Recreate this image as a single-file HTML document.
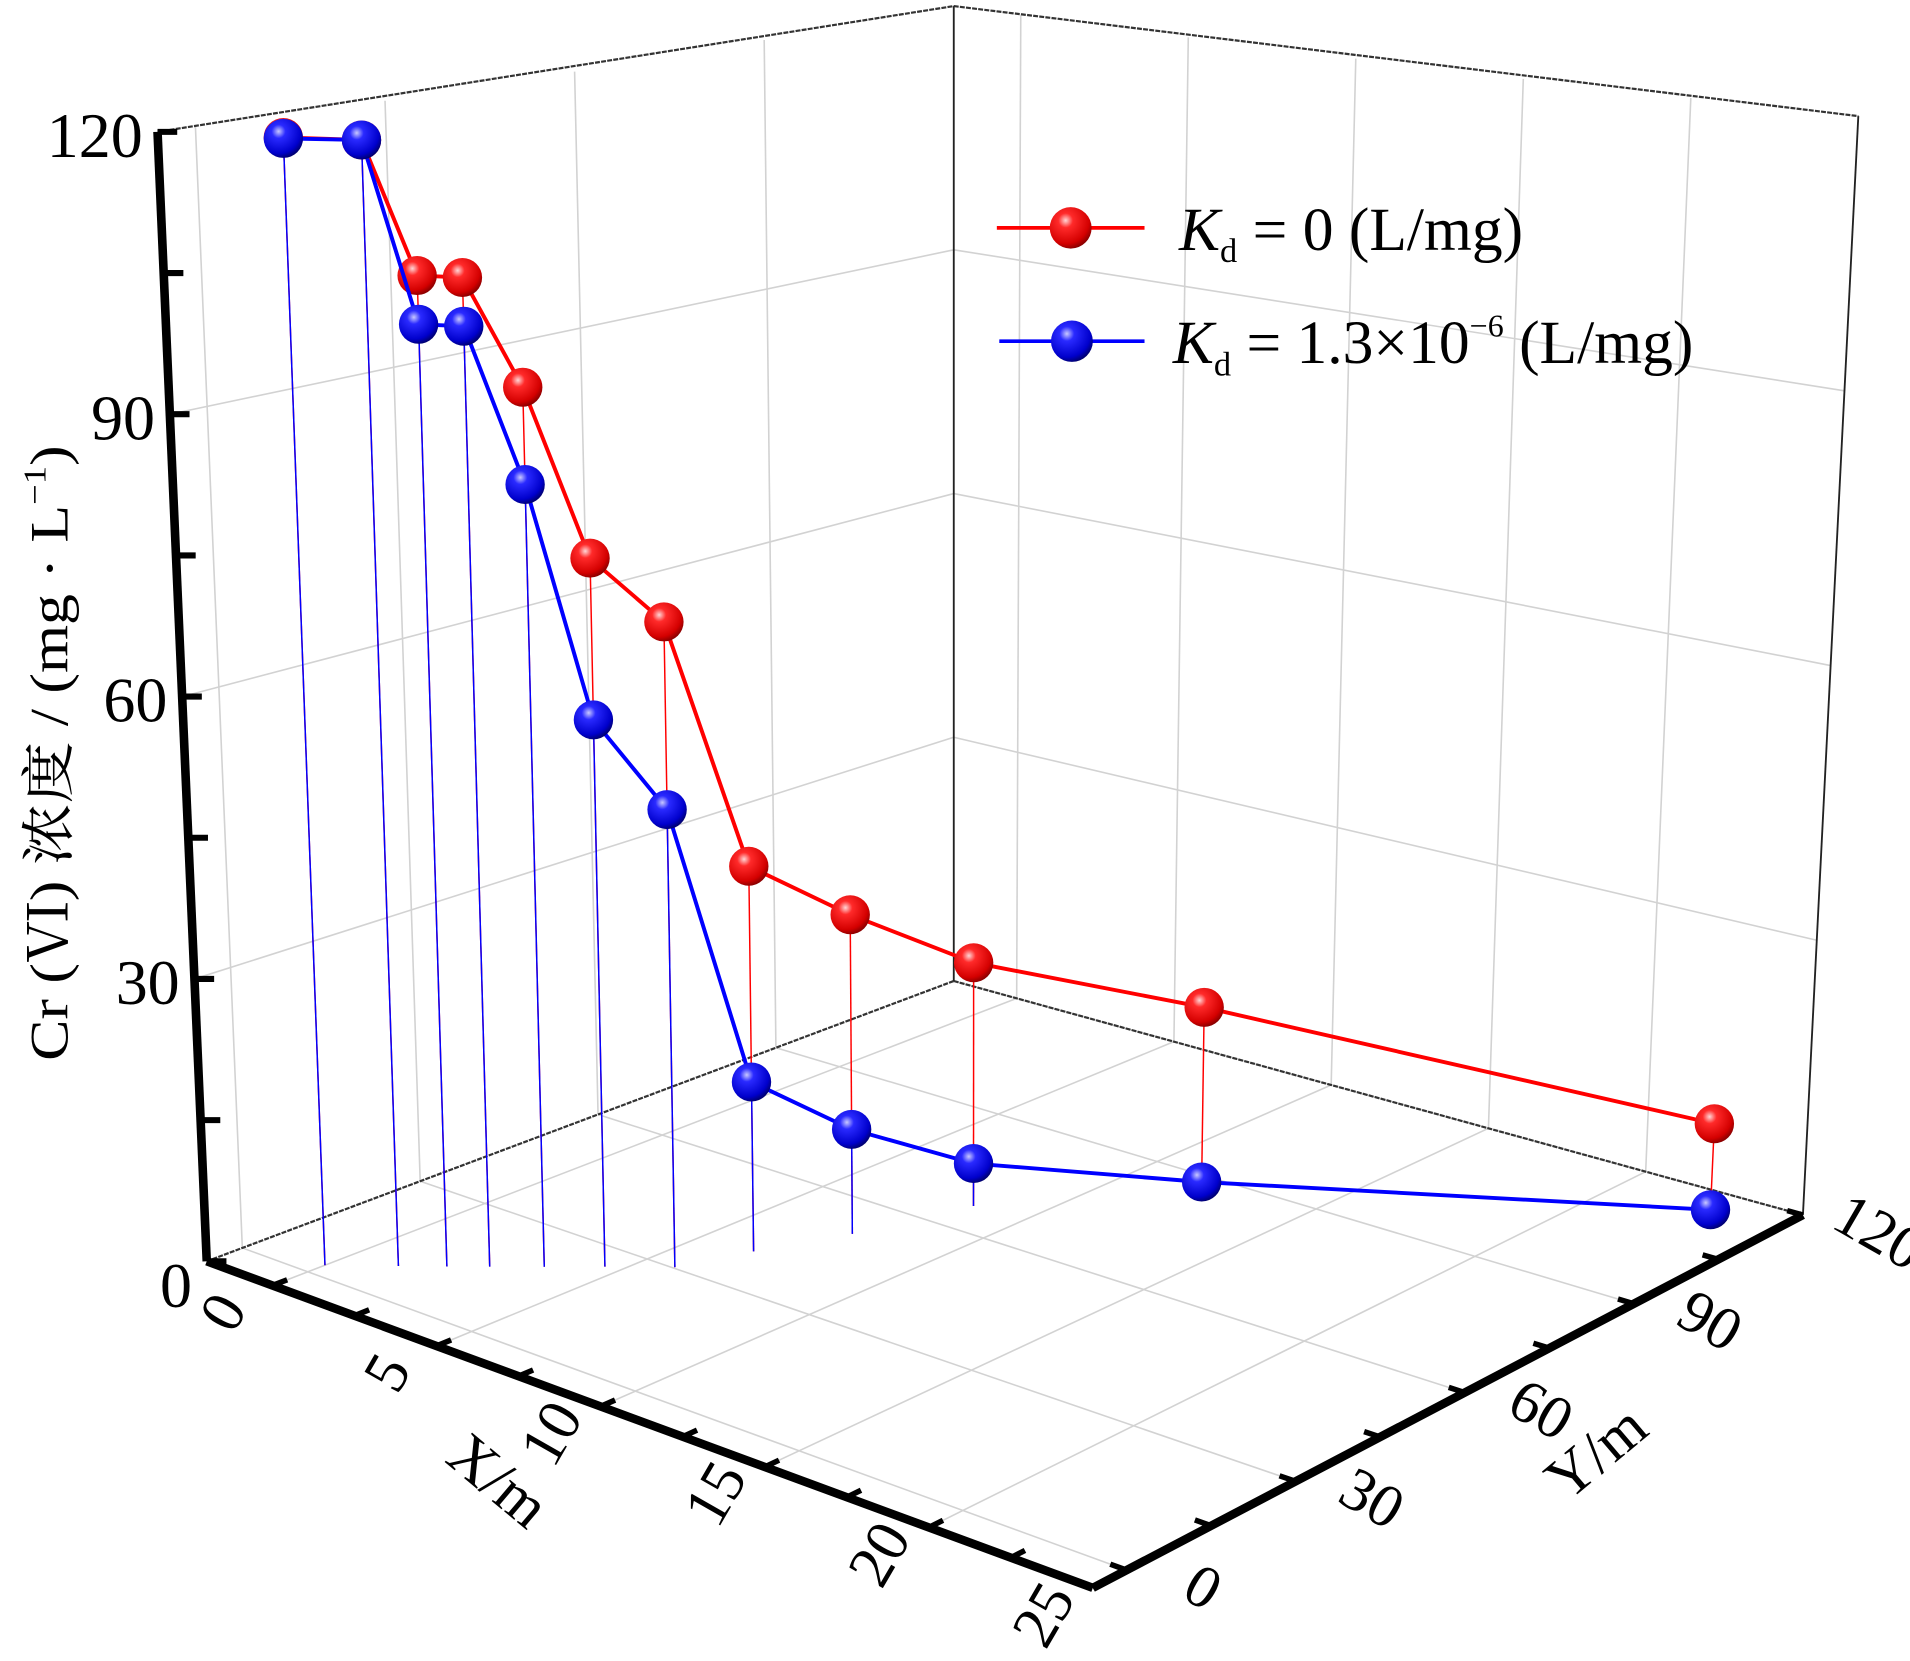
<!DOCTYPE html>
<html><head><meta charset="utf-8">
<style>
html,body{margin:0;padding:0;background:#fff;}
svg{display:block;}
text{font-family:"Liberation Serif","Noto Serif CJK SC",serif;fill:#000;}
</style></head>
<body>
<svg id="chart" width="1910" height="1661" viewBox="0 0 1552 1363" preserveAspectRatio="none" xmlns="http://www.w3.org/2000/svg">
<defs>
<radialGradient id="gRed" cx="0.38" cy="0.32" r="0.7">
<stop offset="0" stop-color="#ffd6d6"/><stop offset="0.25" stop-color="#ff2a2a"/><stop offset="0.8" stop-color="#d40000"/><stop offset="1" stop-color="#8a0000"/>
</radialGradient>
<radialGradient id="gBlue" cx="0.38" cy="0.32" r="0.7">
<stop offset="0" stop-color="#c8c8ff"/><stop offset="0.25" stop-color="#2a2aff"/><stop offset="0.8" stop-color="#0000cc"/><stop offset="1" stop-color="#000070"/>
</radialGradient>
</defs>
<g id="grid"></g>
<g id="frame"></g>
<g id="drops"></g>
<g id="series"></g>
<g id="axes"></g>
<g id="legend">
  <g>
    <line x1="810" y1="187" x2="930" y2="187" stroke="#ff0000" stroke-width="3"/>
    <circle cx="870" cy="187" r="17" fill="url(#gRed)"/>
    <text x="958" y="205" font-size="50"><tspan font-style="italic">K</tspan><tspan font-size="28" dy="10">d</tspan><tspan dy="-10"> = 0 (L/mg)</tspan></text>
  </g>
  <g>
    <line x1="812" y1="280" x2="930" y2="280" stroke="#0000ff" stroke-width="3"/>
    <circle cx="871" cy="280" r="17" fill="url(#gBlue)"/>
    <text x="953" y="298" font-size="50"><tspan font-style="italic">K</tspan><tspan font-size="28" dy="10">d</tspan><tspan dy="-10"> = 1.3×10</tspan><tspan font-size="26" dy="-22">−6</tspan><tspan dy="22"> (L/mg)</tspan></text>
  </g>
</g>
<text transform="translate(55,618) rotate(-90)" text-anchor="middle" font-size="44" textLength="505" lengthAdjust="spacingAndGlyphs">Cr (Ⅵ) 浓度 / (mg · L<tspan font-size="26" dy="-18">−1</tspan><tspan dy="18">)</tspan></text>
<text transform="translate(405,1215) rotate(40)" text-anchor="middle" dominant-baseline="central" font-size="50">X/m</text>
<text transform="translate(1297,1192) rotate(-40)" text-anchor="middle" dominant-baseline="central" font-size="50">Y/m</text>
</svg>
<script>
// ---- data ----
const xValues = [0.0, 1.2, 2.0, 2.7, 3.6, 4.6, 5.8, 6.5, 7.5, 8.5, 12.3, 23.2];
const yValues = [2.9, 8.7, 12.5, 15.9, 20.2, 25.0, 30.3, 39.9, 51.3, 66.6, 85.0, 113.6];
const redValues = [120, 120, 105.7, 105.6, 94.0, 75.8, 69.1, 41.6, 34.8, 26.9, 21.0, 10.3];
const blueValues = [119.9, 120, 100.5, 100.4, 83.6, 58.5, 49.0, 18.3, 11.4, 4.7, 1.6, 0.9];
const xTicks = [0, 5, 10, 15, 20, 25];
const yTicks = [0, 30, 60, 90, 120];
const zTicks = [0, 30, 60, 90, 120];

const XMIN = -2, XMAX = 25, YMIN = -6, YMAX = 120, ZMAX = 120;
const NS = "http://www.w3.org/2000/svg";
function proj(X, Y, Z) {
  const u = (X - XMIN) / (XMAX - XMIN), v = (Y - YMIN) / (YMAX - YMIN);
  const fx = 168 + 720*u + 607*v - 30*u*v;
  const fy = 1035 + 268*u - 230*v - 76*u*v;
  const h = 1 / (0.001079 - 0.000141*u + 0.000171*v);
  const dx = -40 + 45*u + 40*v;
  const f = Z / ZMAX;
  return [fx + dx*f, fy - h*f];
}
function mk(parent, tag, attrs) {
  const el = document.createElementNS(NS, tag);
  for (const k in attrs) el.setAttribute(k, attrs[k]);
  parent.appendChild(el);
  return el;
}
function seg(parent, p, q, stroke, w, dash) {
  const el = mk(parent, "line", {x1:p[0], y1:p[1], x2:q[0], y2:q[1], stroke:stroke, "stroke-width":w});
  if (dash) el.setAttribute("stroke-dasharray", dash);
  return el;
}
const grid = document.getElementById("grid");
const frame = document.getElementById("frame");
const drops = document.getElementById("drops");
const series = document.getElementById("series");
const axes = document.getElementById("axes");
const GC = "#d2d2d2";

yTicks.forEach(y => { if (y < YMAX) {
  const l = seg(grid, proj(XMIN, y, 0), proj(XMIN, y, ZMAX), GC, 1.3);
  
  
}});
xTicks.forEach(x => { if (x < XMAX) {
  const l = seg(grid, proj(x, YMAX, 0), proj(x, YMAX, ZMAX), GC, 1.3);
  
  
}});
zTicks.forEach(z => { if (z > 0 && z < ZMAX) {
  const a = seg(grid, proj(XMIN, YMIN, z), proj(XMIN, YMAX, z), GC, 1.3);
  
  
  const b = seg(grid, proj(XMIN, YMAX, z), proj(XMAX, YMAX, z), GC, 1.3);
  
  
}});
xTicks.forEach(x => {
  const l = seg(grid, proj(x, YMIN, 0), proj(x, YMAX, 0), GC, 1.3);
  
  
});
yTicks.forEach(y => {
  const l = seg(grid, proj(XMIN, y, 0), proj(XMAX, y, 0), GC, 1.3);
  
  
});

[[[XMIN,YMIN,ZMAX],[XMIN,YMAX,ZMAX]],[[XMIN,YMAX,ZMAX],[XMAX,YMAX,ZMAX]],
 [[XMIN,YMIN,0],[XMIN,YMAX,0]],[[XMIN,YMAX,0],[XMAX,YMAX,0]]].forEach(e => {
  const l = seg(frame, proj(...e[0]), proj(...e[1]), "#333", 1.8, "4 1");
  
  
});
[[XMIN,YMAX],[XMAX,YMAX]].forEach(c => {
  const l = seg(frame, proj(c[0],c[1],0), proj(c[0],c[1],ZMAX), "#222", 1.5);
  
  
});

xValues.forEach((x, i) => {
  const r = seg(drops, proj(x, yValues[i], redValues[i]), proj(x, yValues[i], 0), "#ff0000", 1.2);
  
  
});
xValues.forEach((x, i) => {
  const b = seg(drops, proj(x, yValues[i], blueValues[i]), proj(x, yValues[i], 0), "#0000ff", 1.2);
  
  
});

function drawSeries(vals, color, grad, name) {
  const pts = xValues.map((x, i) => proj(x, yValues[i], vals[i]));
  const pl = mk(series, "polyline", {points: pts.map(p => p.join(",")).join(" "), fill:"none", stroke:color, "stroke-width":3.2, "stroke-linejoin":"round"});
  
  
  pts.forEach(p => {
    const c = mk(series, "circle", {cx:p[0], cy:p[1], r:16, fill:"url(#" + grad + ")"});
    
    
  });
}
drawSeries(redValues, "#ff0000", "gRed", "kd0-series");
drawSeries(blueValues, "#0000ff", "gBlue", "kd13-series");

const ax = seg(axes, proj(XMIN, YMIN, 0), proj(XMAX, YMIN, 0), "#000", 7);


const ay = seg(axes, proj(XMAX, YMIN, 0), proj(XMAX, YMAX, 0), "#000", 7);


const az = seg(axes, proj(XMIN, YMIN, 0), proj(XMIN, YMIN, ZMAX), "#000", 7);



for (let x = 0; x <= XMAX; x += 2.5) {
  const t = seg(axes, proj(x, YMIN, 0), proj(x, YMIN + 2.5, 0), "#000", 4.5);
  
  
}
xTicks.forEach(x => {
  const p = proj(x, YMIN, 0);
  const t = mk(axes, "text", {transform:"translate(" + (p[0]-40) + "," + (p[1]+22) + ") rotate(-60)", "text-anchor":"middle", "dominant-baseline":"central", "font-size":50});
  t.textContent = x;
  
  
});
for (let y = 0; y <= YMAX; y += 15) {
  const t = seg(axes, proj(XMAX, y, 0), proj(XMAX - 0.5, y, 0), "#000", 4.5);
  
  
}
yTicks.forEach(y => {
  const p = proj(XMAX, y, 0);
  const t = mk(axes, "text", {transform:"translate(" + (p[0]+62) + "," + (p[1]+14) + ") rotate(30)", "text-anchor":"middle", "dominant-baseline":"central", "font-size":50});
  t.textContent = y;
  
  
});
for (let z = 0; z <= ZMAX; z += 15) {
  const p = proj(XMIN, YMIN, z);
  const t = seg(axes, p, [p[0] + 16, p[1]], "#000", 5);
  
  
}
zTicks.forEach(z => {
  const p = proj(XMIN, YMIN, z);
  const t = mk(axes, "text", {x:p[0] - 12, y:p[1] + (z === 0 ? 20 : 3), "text-anchor":"end", "dominant-baseline":"central", "font-size":52});
  t.textContent = z;
  
  
});
</script>
</body></html>
